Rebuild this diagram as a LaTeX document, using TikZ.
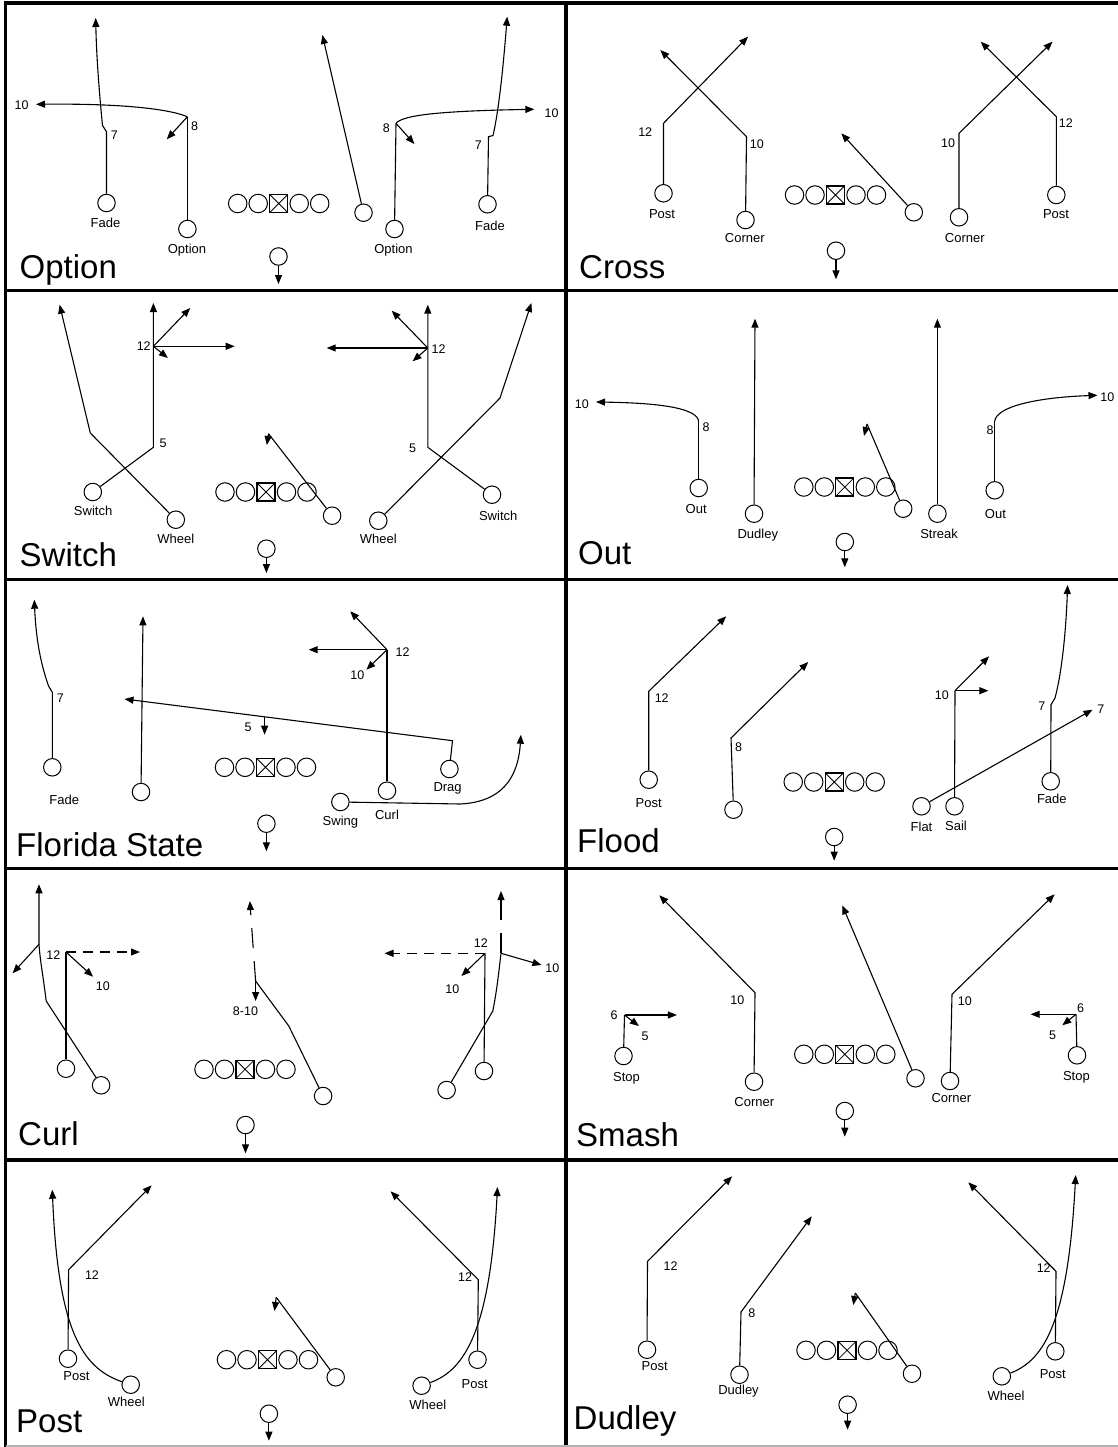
\documentclass[tikz,border=0pt]{standalone}
\usepackage{fontspec}
\setmainfont{Liberation Sans}
\usetikzlibrary{arrows.meta}
\newcommand{\OLine}[3]{%
  \node[olc] (#1a) at ({#2-41},#3) {};
  \node[olc] (#1b) at ({#2-20.5},#3) {};
  \node[ctr] (#1c) at (#2,#3) {};
  \node[olc] (#1d) at ({#2+20.5},#3) {};
  \node[olc] (#1e) at ({#2+41},#3) {};
}
\newcommand{\QBk}[4]{%
  \node[pl] (#1) at (#2,#3) {};
  \coordinate (#1t) at (#2,#4);
  \draw[rt] (#1) -- (#1t);
}
\tikzset{
 pl/.style={circle, draw, line width=1pt, minimum size=17.5pt, inner sep=0pt},
 olc/.style={circle, draw, line width=1pt, minimum size=18.5pt, inner sep=0pt},
 ctr/.style={rectangle, draw, line width=1.2pt, minimum size=18pt, inner sep=0pt,
   path picture={\draw[line width=0.8pt] (path picture bounding box.north west) -- (path picture bounding box.south east) (path picture bounding box.north east) -- (path picture bounding box.south west);}},
 lab/.style={font=\fontsize{13}{15}\selectfont, inner sep=0pt},
 num/.style={font=\fontsize{12.5}{14}\selectfont, inner sep=0pt},
 ttl/.style={font=\fontsize{33}{38}\selectfont, anchor=base west, inner sep=0pt},
 ln/.style={line width=1.1pt},
 rt/.style={ln, -{Triangle[length=9pt,width=7pt]}},
 dashH/.style={dash pattern=on 10pt off 7pt},
 dashV/.style={dash pattern=on 20pt off 13pt},
 grid/.style={line width=3.5pt},
}
\begin{document}
\begin{tikzpicture}[x=1pt,y=-1pt]
\useasboundingbox (0,0) rectangle (1118,1447);
\fill[white] (0,0) rectangle (1118,1447);
% grid
\draw[grid] (5.5,1447) -- (5.5,3) -- (1118,3);
\draw[grid] (566,3) -- (566,1447);
\draw[grid] (5.5,290.5) -- (1118,290.5);
\draw[grid] (5.5,579.5) -- (1118,579.5);
\draw[grid] (5.5,868.5) -- (1118,868.5);
\draw[grid] (5.5,1160) -- (1118,1160);
\draw[gray!60, line width=1.5pt] (5.5,1446) -- (1118,1446);

% ===== Option =====
\node[pl] (A1) at (106.5,203) {};
\node[lab] (A1l) at (105.5,222.5) {Fade};
\coordinate (A1a) at (106.5,131.7);
\coordinate (A1b) at (102.5,125.5);
\coordinate (A1c) at (95.7,18);
\draw[rt] (A1) -- (A1a) -- (A1b) .. controls (100,100) and (96.5,60) .. (A1c);
\node[num] (A1n) at (114.4,135) {7};
\node[pl] (A2) at (187.4,229) {};
\node[lab] (A2l) at (187,250) {Option};
\coordinate (A2a) at (187.4,116.7);
\coordinate (A2b) at (36,104.3);
\coordinate (A2c) at (166.8,139.3);
\draw[ln] (A2) -- (A2a);
\draw[rt] (A2a) .. controls (165,107.5) and (110,103.5) .. (A2b);
\draw[rt] (A2a) -- (A2c);
\node[num] (A2n) at (194.5,126) {8};
\node[num] (A2m) at (21.7,105) {10};
\OLine{AO}{278.7}{203.5}
\QBk{AQ}{278.5}{256.5}{284}
\node[pl] (A3) at (363.5,212.7) {};
\coordinate (A3a) at (322.4,35);
\draw[rt] (A3) -- (A3a);
\node[pl] (A4) at (394.5,229) {};
\node[lab] (A4l) at (393.5,250) {Option};
\coordinate (A4a) at (396,123.3);
\coordinate (A4b) at (534.3,109.3);
\coordinate (A4c) at (414.4,144);
\draw[ln] (A4) -- (A4a);
\draw[rt] (A4a) .. controls (403,115) and (440,111) .. (A4b);
\draw[rt] (A4a) -- (A4c);
\node[num] (A4n) at (386.3,127.7) {8};
\node[num] (A4m) at (551.6,113.3) {10};
\node[pl] (A5) at (487.5,204.3) {};
\node[lab] (A5l) at (490,225.7) {Fade};
\coordinate (A5a) at (488.5,136.7);
\coordinate (A5b) at (493,135.5);
\coordinate (A5c) at (507.2,16.7);
\draw[rt] (A5) -- (A5a) -- (A5b) .. controls (498.5,112) and (503,70) .. (A5c);
\node[num] (A5n) at (478.3,145) {7};
\node[ttl] (A6) at (19.5,278.3) {Option};

% ===== Cross =====
\node[pl] (B1) at (663.5,193.3) {};
\node[lab] (B1l) at (662,214.3) {Post};
\coordinate (B1a) at (663.5,123.3);
\coordinate (B1b) at (748,36.7);
\draw[rt] (B1) -- (B1a) -- (B1b);
\node[num] (B1n) at (645.2,131.7) {12};
\node[pl] (B2) at (745.5,220) {};
\node[lab] (B2l) at (744.8,237.7) {Corner};
\coordinate (B2a) at (746.5,136.7);
\coordinate (B2b) at (660.3,50);
\draw[rt] (B2) -- (B2a) -- (B2b);
\node[num] (B2n) at (756.8,144) {10};
\OLine{BO}{835.5}{195}
\QBk{BQ}{836}{250.7}{279.3}
\node[pl] (B3) at (913.8,212.3) {};
\coordinate (B3a) at (841.3,133.3);
\draw[rt] (B3) -- (B3a);
\node[pl] (B4) at (959,217.3) {};
\node[lab] (B4l) at (964.8,237.7) {Corner};
\coordinate (B4a) at (959,133.3);
\coordinate (B4b) at (1052.5,41.7);
\draw[rt] (B4) -- (B4a) -- (B4b);
\node[num] (B4n) at (948,142.7) {10};
\node[pl] (B5) at (1056.3,195) {};
\node[lab] (B5l) at (1056,214.3) {Post};
\coordinate (B5a) at (1056.3,116.7);
\coordinate (B5b) at (980.7,41.7);
\draw[rt] (B5) -- (B5a) -- (B5b);
\node[num] (B5n) at (1065.8,122.7) {12};
\node[ttl] (B6) at (579,278.3) {Cross};

% ===== Switch =====
\node[pl] (C1) at (92.8,492) {};
\node[lab] (C1l) at (93.1,511.3) {Switch};
\coordinate (C1a) at (153.4,447.3);
\coordinate (C1b) at (153.4,346.3);
\coordinate (C1c) at (153.4,303);
\coordinate (C1d) at (190.2,308);
\coordinate (C1e) at (234.7,346.3);
\coordinate (C1f) at (167.9,358);
\draw[rt] (C1) -- (C1a) -- (C1b) -- (C1c);
\draw[rt] (C1b) -- (C1d);
\draw[rt] (C1b) -- (C1e);
\draw[rt] (C1b) -- (C1f);
\node[num] (C1n) at (163.2,443.7) {5};
\node[num] (C1m) at (143.7,346.3) {12};
\node[pl] (C2) at (175.8,519.7) {};
\node[lab] (C2l) at (175.8,539) {Wheel};
\coordinate (C2a) at (90.3,433);
\coordinate (C2b) at (59.6,304.7);
\draw[rt] (C2) -- (C2a) -- (C2b);
\OLine{CO}{266}{492}
\QBk{CQ}{266.4}{548.7}{573}
\node[pl] (C3) at (332.1,515.7) {};
\coordinate (C3a) at (268.5,433.7);
\coordinate (C3b) at (266.8,445);
\draw[ln] (C3) -- (C3a);
\draw[rt] (C3a) -- (C3b);
\node[pl] (C4) at (378.3,520.7) {};
\node[lab] (C4l) at (378.3,539) {Wheel};
\coordinate (C4a) at (500,398);
\coordinate (C4b) at (531.4,303);
\draw[rt] (C4) -- (C4a) -- (C4b);
\node[pl] (C5) at (492,494.7) {};
\node[lab] (C5l) at (498.2,516.3) {Switch};
\coordinate (C5a) at (427.8,447.3);
\coordinate (C5b) at (427.8,348);
\coordinate (C5c) at (427.8,304.7);
\coordinate (C5d) at (391.7,310.7);
\coordinate (C5e) at (326.7,348);
\coordinate (C5f) at (412.6,361.3);
\draw[rt] (C5) -- (C5a) -- (C5b) -- (C5c);
\draw[rt] (C5b) -- (C5d);
\draw[rt] (C5b) -- (C5e);
\draw[rt] (C5b) -- (C5f);
\node[num] (C5n) at (412.6,448.7) {5};
\node[num] (C5m) at (438.6,348.7) {12};
\node[ttl] (C6) at (19.5,566.3) {Switch};

% ===== Out =====
\node[pl] (D1) at (698.7,488) {};
\node[lab] (D1l) at (696.2,508.7) {Out};
\coordinate (D1a) at (698.7,421.3);
\coordinate (D1b) at (596,402);
\draw[ln] (D1) -- (D1a);
\draw[rt] (D1a) .. controls (697,409) and (665,403) .. (D1b);
\node[num] (D1n) at (706.1,427.3) {8};
\node[num] (D1m) at (581.8,403.7) {10};
\node[pl] (D2) at (754,513.7) {};
\node[lab] (D2l) at (757.8,535.3) {Dudley};
\coordinate (D2a) at (755,318.7);
\draw[rt] (D2) -- (D2a);
\OLine{DO}{844.8}{487}
\QBk{DQ}{844.8}{542}{567.3}
\node[pl] (D3) at (903.2,508.7) {};
\coordinate (D3a) at (867,424);
\coordinate (D3b) at (864,436);
\draw[ln] (D3) -- (D3a);
\draw[rt] (D3a) -- (D3b);
\node[pl] (D4) at (937.4,513.7) {};
\node[lab] (D4l) at (939.1,533.7) {Streak};
\coordinate (D4a) at (937.4,318.7);
\draw[rt] (D4) -- (D4a);
\node[pl] (D5) at (994.7,490.3) {};
\node[lab] (D5l) at (995.4,513.7) {Out};
\coordinate (D5a) at (994.7,421.3);
\coordinate (D5b) at (1097.5,395.3);
\draw[ln] (D5) -- (D5a);
\draw[rt] (D5a) .. controls (996,407) and (1035,397.5) .. (D5b);
\node[num] (D5n) at (990.2,429.7) {8};
\node[num] (D5m) at (1107.4,397.3) {10};
\node[ttl] (D6) at (578,564) {Out};

% ===== Florida State =====
\node[pl] (E1) at (52.3,767.3) {};
\node[lab] (E1l) at (64.3,799.7) {Fade};
\coordinate (E1a) at (52.3,692.3);
\coordinate (E1b) at (48.7,686.3);
\coordinate (E1c) at (34.3,599.7);
\draw[rt] (E1) -- (E1a) -- (E1b) .. controls (41,665) and (36,640) .. (E1c);
\node[num] (E1n) at (60.3,698) {7};
\node[pl] (E2) at (141,792) {};
\coordinate (E2a) at (143,616.3);
\draw[rt] (E2) -- (E2a);
\OLine{EO}{265.5}{767.3}
\QBk{EQ}{266.4}{823.7}{851.3}
\node[pl] (E3) at (387,790.7) {};
\node[lab] (E3l) at (387,815.3) {Curl};
\coordinate (E3a) at (387,649.7);
\coordinate (E3b) at (350.2,611.3);
\coordinate (E3c) at (308.7,649.7);
\coordinate (E3d) at (366.4,669.7);
\draw[ln] (E3) -- (E3a);
\draw[rt] (E3a) -- (E3b);
\draw[rt] (E3a) -- (E3c);
\draw[rt] (E3a) -- (E3d);
\node[num] (E3n) at (402.5,652) {12};
\node[num] (E3m) at (357.4,675.3) {10};
\node[pl] (E4) at (449.4,769) {};
\node[lab] (E4l) at (447.6,788) {Drag};
\coordinate (E4a) at (452.5,740.7);
\coordinate (E4b) at (124.5,699);
\draw[rt] (E4) -- (E4a) -- (E4b);
\coordinate (E5a) at (264.6,716.8);
\coordinate (E5b) at (264.6,734.7);
\draw[rt] (E5a) -- (E5b);
\node[num] (E5n) at (248,727.3) {5};
\node[pl] (E6) at (340.4,802) {};
\node[lab] (E6l) at (340.4,822) {Swing};
\coordinate (E6a) at (460.3,804);
\coordinate (E6b) at (520.9,734.7);
\draw[rt] (E6) -- (E6a) .. controls (500,802) and (518,780) .. (E6b);
\node[ttl] (E7) at (16,856.3) {Florida State};

% ===== Flood =====
\node[pl] (F1) at (648.7,779.7) {};
\node[lab] (F1l) at (648.7,803) {Post};
\coordinate (F1a) at (648.7,691.3);
\coordinate (F1b) at (726.2,616.3);
\draw[rt] (F1) -- (F1a) -- (F1b);
\node[num] (F1n) at (661.7,698) {12};
\node[pl] (F2) at (733.5,809.7) {};
\coordinate (F2a) at (731,738);
\coordinate (F2b) at (808.2,662);
\draw[rt] (F2) -- (F2a) -- (F2b);
\node[num] (F2n) at (738.5,747.3) {8};
\OLine{FO}{834.2}{782}
\QBk{FQ}{834.2}{837}{860.7}
\node[pl] (F3) at (921.5,806.3) {};
\node[lab] (F3l) at (921.5,827.3) {Flat};
\coordinate (F3a) at (1092.5,709.7);
\draw[rt] (F3) -- (F3a);
\node[num] (F3n) at (1100.8,709) {7};
\node[pl] (F4) at (954.5,806.3) {};
\node[lab] (F4l) at (956,825.7) {Sail};
\coordinate (F4a) at (955,690.7);
\coordinate (F4b) at (989.1,656.3);
\coordinate (F4c) at (988.4,690.7);
\draw[ln] (F4) -- (F4a);
\draw[rt] (F4a) -- (F4b);
\draw[rt] (F4a) -- (F4c);
\node[num] (F4n) at (941.9,695.3) {10};
\node[pl] (F5) at (1050.7,781.3) {};
\node[lab] (F5l) at (1051.8,799) {Fade};
\coordinate (F5a) at (1051,704.7);
\coordinate (F5b) at (1055,698);
\coordinate (F5c) at (1067.6,585);
\draw[rt] (F5) -- (F5a) -- (F5b) .. controls (1062,672) and (1066,630) .. (F5c);
\node[num] (F5n) at (1041.9,705.7) {7};
\node[ttl] (F6) at (577,852) {Flood};

% ===== Curl =====
\node[pl] (G1) at (101.1,1085.3) {};
\coordinate (G1a) at (46.2,1001);
\coordinate (G1b) at (39,944.3);
\coordinate (G1c) at (39,884.3);
\coordinate (G1d) at (12.6,973.3);
\draw[rt] (G1) -- (G1a) .. controls (43,975) and (40,960) .. (G1b) -- (G1c);
\draw[rt] (G1b) -- (G1d);
\node[pl] (G2) at (66,1068.7) {};
\coordinate (G2a) at (66,952);
\coordinate (G2b) at (140,952);
\coordinate (G2c) at (93.1,976.7);
\draw[ln] (G2) -- (G2a);
\draw[rt,dashH] (G2a) -- (G2b);
\draw[rt] (G2a) -- (G2c);
\node[num] (G2n) at (53.4,955.3) {12};
\node[num] (G2m) at (102.9,986) {10};
\OLine{GO}{245}{1069.3}
\QBk{GQ}{245.5}{1125}{1153.3}
\node[pl] (G3) at (323.1,1096) {};
\coordinate (G3a) at (288.8,1026);
\coordinate (G3b) at (255.6,981);
\coordinate (G3c) at (249.8,901);
\coordinate (G3d) at (255.6,1001);
\draw[ln] (G3) -- (G3a) -- (G3b);
\draw[rt,dashV] (G3b) -- (G3c);
\draw[rt] (G3b) -- (G3d);
\node[num] (G3n) at (245.5,1011) {8-10};
\node[pl] (G4) at (484,1071) {};
\coordinate (G4a) at (485,953.3);
\coordinate (G4b) at (384.5,953.3);
\coordinate (G4c) at (461.4,976);
\draw[ln] (G4) -- (G4a);
\draw[rt,dashH] (G4a) -- (G4b);
\draw[rt] (G4a) -- (G4c);
\node[num] (G4n) at (480.9,943.3) {12};
\node[num] (G4m) at (452.3,989.3) {10};
\node[pl] (G5) at (446.6,1090) {};
\coordinate (G5a) at (492.8,1011);
\coordinate (G5b) at (501,953.3);
\coordinate (G5c) at (501,891);
\coordinate (G5d) at (541.5,965);
\draw[ln] (G5) -- (G5a) .. controls (497,990) and (499,970) .. (G5b);
\draw[rt,dashV] (G5b) -- (G5c);
\draw[rt] (G5b) -- (G5d);
\node[num] (G5n) at (552.3,967.7) {10};
\node[ttl] (G6) at (18,1145.3) {Curl};

% ===== Smash =====
\node[pl] (H1) at (623.5,1056) {};
\node[lab] (H1l) at (626.5,1078.3) {Stop};
\coordinate (H1a) at (624.5,1015);
\coordinate (H1b) at (676.9,1015);
\coordinate (H1c) at (638.9,1026);
\draw[ln] (H1) -- (H1a);
\draw[rt] (H1a) -- (H1b);
\draw[rt] (H1a) -- (H1c);
\node[num] (H1n) at (614.2,1015.3) {6};
\node[num] (H1m) at (645.2,1036.7) {5};
\node[pl] (H2) at (754,1081.7) {};
\node[lab] (H2l) at (754.3,1101.7) {Corner};
\coordinate (H2a) at (755,992.7);
\coordinate (H2b) at (659.3,895.3);
\draw[rt] (H2) -- (H2a) -- (H2b);
\node[num] (H2n) at (737.4,1000.3) {10};
\OLine{HO}{844.8}{1054.3}
\QBk{HQ}{844.8}{1111}{1136.7}
\node[pl] (H3) at (915.5,1078.3) {};
\coordinate (H3a) at (842.3,905.3);
\draw[rt] (H3) -- (H3a);
\node[pl] (H4) at (950,1081) {};
\node[lab] (H4l) at (951.4,1098.3) {Corner};
\coordinate (H4a) at (952,994.3);
\coordinate (H4b) at (1054.6,894.3);
\draw[rt] (H4) -- (H4a) -- (H4b);
\node[num] (H4n) at (964.8,1001) {10};
\node[pl] (H5) at (1077,1055.3) {};
\node[lab] (H5l) at (1076.4,1077) {Stop};
\coordinate (H5a) at (1076,1014.3);
\coordinate (H5b) at (1030.6,1014.3);
\coordinate (H5c) at (1062.3,1025.3);
\draw[ln] (H5) -- (H5a);
\draw[rt] (H5a) -- (H5b);
\draw[rt] (H5a) -- (H5c);
\node[num] (H5n) at (1080.6,1007.7) {6};
\node[num] (H5m) at (1052.5,1035) {5};
\node[ttl] (H6) at (576,1146.7) {Smash};

% ===== Post =====
\node[pl] (I1) at (68,1358.7) {};
\node[lab] (I1l) at (76.5,1376.3) {Post};
\coordinate (I1a) at (68.6,1269.7);
\coordinate (I1b) at (151.6,1185.3);
\draw[rt] (I1) -- (I1a) -- (I1b);
\node[num] (I1n) at (92,1275.3) {12};
\node[pl] (I2) at (130.7,1384.7) {};
\node[lab] (I2l) at (126.4,1402.3) {Wheel};
\coordinate (I2a) at (52.3,1189.7);
\draw[rt] (I2) .. controls (82,1368) and (58,1330) .. (I2a);
\OLine{IO}{267.5}{1359.7}
\QBk{IQ}{268.9}{1413.7}{1440.7}
\node[pl] (I3) at (335.7,1377.3) {};
\coordinate (I3a) at (276.2,1297.3);
\coordinate (I3b) at (274.5,1311);
\draw[ln] (I3) -- (I3a);
\draw[rt] (I3a) -- (I3b);
\node[pl] (I4) at (421.6,1385.7) {};
\node[lab] (I4l) at (427.8,1404.7) {Wheel};
\coordinate (I4a) at (497.5,1187);
\draw[rt] (I4) .. controls (465,1370) and (490,1330) .. (I4a);
\node[pl] (I5) at (477.5,1359.7) {};
\node[lab] (I5l) at (474.7,1383.7) {Post};
\coordinate (I5a) at (478.3,1279.7);
\coordinate (I5b) at (390.6,1191.3);
\draw[rt] (I5) -- (I5a) -- (I5b);
\node[num] (I5n) at (465,1277) {12};
\node[ttl] (I6) at (16,1432) {Post};

% ===== Dudley =====
\node[pl] (J1) at (647,1349.7) {};
\node[lab] (J1l) at (654.7,1366.3) {Post};
\coordinate (J1a) at (647.5,1261.3);
\coordinate (J1b) at (732.1,1176.3);
\draw[rt] (J1) -- (J1a) -- (J1b);
\node[num] (J1n) at (670.5,1266.3) {12};
\node[pl] (J2) at (739.5,1374.7) {};
\node[lab] (J2l) at (738.5,1391.3) {Dudley};
\coordinate (J2a) at (741,1312);
\coordinate (J2b) at (811.7,1216.3);
\draw[rt] (J2) -- (J2a) -- (J2b);
\node[num] (J2n) at (751.9,1313) {8};
\OLine{JO}{847}{1350.3}
\QBk{JQ}{847.6}{1404.7}{1429.7}
\node[pl] (J3) at (912,1373.7) {};
\coordinate (J3a) at (855.3,1293);
\coordinate (J3b) at (853.3,1305);
\draw[ln] (J3) -- (J3a);
\draw[rt] (J3a) -- (J3b);
\node[pl] (J4) at (1001.8,1376.3) {};
\node[lab] (J4l) at (1006,1395.7) {Wheel};
\coordinate (J4a) at (1075.7,1175);
\draw[rt] (J4) .. controls (1045,1360) and (1068,1320) .. (J4a);
\node[pl] (J5) at (1055.3,1351.3) {};
\node[lab] (J5l) at (1052.8,1374) {Post};
\coordinate (J5a) at (1056,1271.3);
\coordinate (J5b) at (968.3,1182.3);
\draw[rt] (J5) -- (J5a) -- (J5b);
\node[num] (J5n) at (1043.7,1268) {12};
\node[ttl] (J6) at (573.5,1429.7) {Dudley};
\end{tikzpicture}
\end{document}
